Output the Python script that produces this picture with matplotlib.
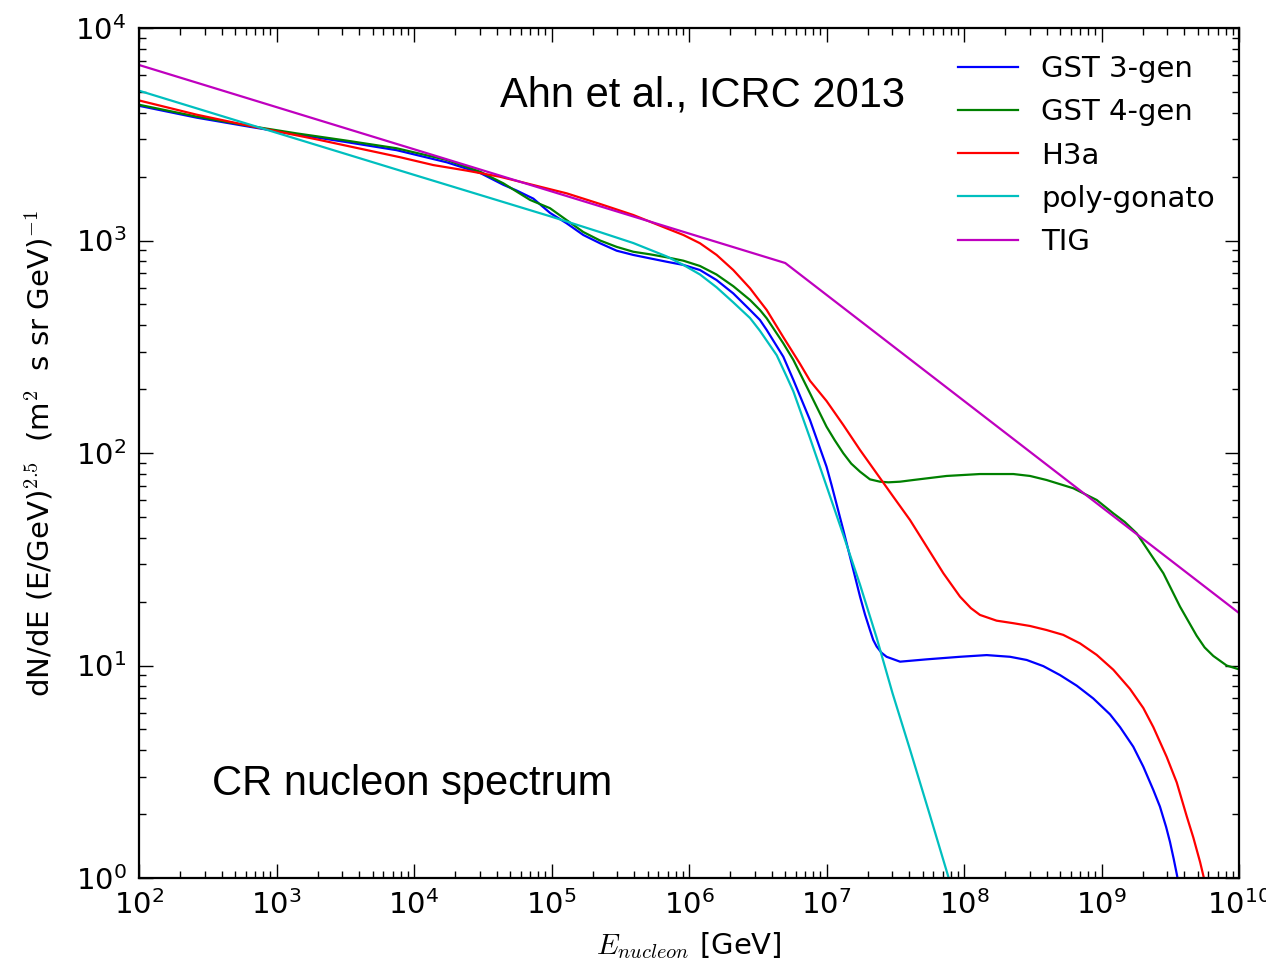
import numpy as np
import matplotlib
matplotlib.use("Agg")
import matplotlib.pyplot as plt

plt.rcParams['mathtext.fontset'] = 'cm'
plt.rcParams['font.family'] = ['DejaVu Sans']

# ---- data (log10 E [GeV], log10 flux) ----
gst3_logE = [2.007, 2.42, 2.807, 3.147, 3.51, 3.874, 4.238, 4.48, 4.65, 4.747, 4.868, 4.989,
             5.11, 5.231, 5.353, 5.474, 5.595, 5.716, 5.838, 5.959, 6.08, 6.20, 6.322, 6.444,
             6.516, 6.565, 6.686, 6.759, 6.88, 7.0, 7.037, 7.122, 7.244, 7.28, 7.316, 7.34,
             7.365, 7.40, 7.437, 7.535, 7.729, 7.971, 8.165, 8.335, 8.456, 8.577, 8.698, 8.82,
             8.94, 9.062, 9.135, 9.231, 9.304, 9.377, 9.425, 9.47, 9.498, 9.525, 9.547, 9.58]
gst3_logF = [3.633, 3.578, 3.535, 3.499, 3.463, 3.425, 3.368, 3.318, 3.262, 3.235, 3.197, 3.13,
             3.081, 3.026, 2.987, 2.952, 2.932, 2.916, 2.900, 2.885, 2.861, 2.814, 2.751, 2.673,
             2.626, 2.579, 2.453, 2.344, 2.155, 1.936, 1.849, 1.638, 1.324, 1.24, 1.167, 1.12,
             1.089, 1.06, 1.041, 1.018, 1.029, 1.041, 1.049, 1.041, 1.026, 0.997, 0.955, 0.905,
             0.845, 0.77, 0.71, 0.618, 0.524, 0.414, 0.336, 0.24, 0.17, 0.09, 0.02, -0.09]

gst4_logE = [2.007, 2.42, 2.807, 3.147, 3.51, 3.874, 4.238, 4.48, 4.65, 4.844, 4.989, 5.11,
             5.231, 5.353, 5.474, 5.595, 5.716, 5.838, 5.959, 6.08, 6.20, 6.322, 6.444, 6.516,
             6.565, 6.686, 6.759, 6.88, 7.0, 7.06, 7.122, 7.18, 7.244, 7.316, 7.389, 7.45,
             7.535, 7.632, 7.874, 8.116, 8.359, 8.48, 8.60, 8.795, 8.965, 9.086, 9.17, 9.256,
             9.353, 9.45, 9.571, 9.692, 9.75, 9.813, 9.91, 10.0]
gst4_logF = [3.638, 3.583, 3.539, 3.504, 3.470, 3.434, 3.379, 3.324, 3.269, 3.191, 3.152, 3.096,
             3.04, 3.0, 2.97, 2.947, 2.935, 2.921, 2.905, 2.88, 2.84, 2.785, 2.72, 2.673,
             2.634, 2.516, 2.438, 2.281, 2.124, 2.06, 1.999, 1.95, 1.912, 1.876, 1.865, 1.862,
             1.865, 1.873, 1.892, 1.901, 1.901, 1.892, 1.873, 1.834, 1.779, 1.716, 1.675, 1.622,
             1.528, 1.434, 1.277, 1.14, 1.085, 1.045, 1.0, 0.982]

h3a_logE = [2.007, 2.42, 2.807, 3.30, 3.898, 4.140, 4.383, 4.625, 4.868, 5.110, 5.353, 5.595,
            5.838, 5.959, 6.080, 6.201, 6.322, 6.444, 6.516, 6.565, 6.686, 6.807, 6.88, 7.0,
            7.122, 7.244, 7.365, 7.486, 7.607, 7.729, 7.85, 7.971, 8.05, 8.116, 8.237, 8.359,
            8.48, 8.60, 8.722, 8.844, 8.965, 9.086, 9.207, 9.304, 9.377, 9.474, 9.547, 9.62,
            9.668, 9.717, 9.741, 9.79]
h3a_logF = [3.658, 3.592, 3.539, 3.475, 3.392, 3.355, 3.329, 3.300, 3.261, 3.222, 3.172, 3.12,
            3.057, 3.026, 2.987, 2.932, 2.861, 2.775, 2.714, 2.673, 2.545, 2.42, 2.34, 2.245,
            2.132, 2.014, 1.904, 1.794, 1.685, 1.559, 1.434, 1.324, 1.27, 1.238, 1.211, 1.199,
            1.186, 1.167, 1.144, 1.104, 1.05, 0.98, 0.89, 0.80, 0.71, 0.57, 0.45, 0.29,
            0.19, 0.075, 0.01, -0.12]

pg_logE = [2.00, 3.00, 4.00, 5.00, 5.35, 5.595, 5.838, 5.959, 6.08, 6.20, 6.32, 6.444, 6.516,
           6.638, 6.71, 6.759, 6.88, 7.00, 7.122, 7.244, 7.365, 7.48, 7.607, 7.75, 7.886, 7.95]
pg_logF = [3.705, 3.507, 3.309, 3.112, 3.04, 2.988, 2.925, 2.885, 2.84, 2.78, 2.71, 2.635, 2.575,
           2.46, 2.36, 2.29, 2.07, 1.845, 1.615, 1.38, 1.13, 0.87, 0.605, 0.30, 0.006, -0.13]

tig_logE = [2.00, 6.70, 10.0]
tig_logF = [3.826, 2.894, 1.247]

labels = ['GST 3-gen', 'GST 4-gen', 'H3a', 'poly-gonato', 'TIG']
colors = ['#0000ff', '#008000', '#ff0000', '#00bfbf', '#bf00bf']

series = [(gst3_logE, gst3_logF), (gst4_logE, gst4_logF), (h3a_logE, h3a_logF),
          (pg_logE, pg_logF), (tig_logE, tig_logF)]

fig = plt.figure(figsize=(12.66, 9.67), dpi=100)
ax = fig.add_axes([139/1266, 1-878/967, 1100/1266, 850/967])

for (le, lf), lab, col in zip(series, labels, colors):
    ax.plot(10**np.array(le), 10**np.array(lf), color=col, lw=1.6, label=lab,
            solid_joinstyle='round')

ax.set_xscale('log')
ax.set_yscale('log')
ax.set_xlim(1e2, 1e10)
ax.set_ylim(1e0, 1e4)

ax.tick_params(which='both', direction='in', top=True, right=True, labelsize=21)
ax.tick_params(which='major', length=10, width=1.0, pad=9)
ax.tick_params(which='minor', length=5, width=1.0)
for s in ax.spines.values():
    s.set_linewidth(1.6)

ax.set_xlabel(r'$E_{nucleon}$ [GeV]', fontsize=21, labelpad=7)
ax.set_ylabel(r'dN/dE (E/GeV)$^{2.5}$  (m$^2$  s sr GeV)$^{-1}$', fontsize=21, labelpad=14)

leg = ax.legend(loc='upper left', bbox_to_anchor=(0.7445, 0.968), frameon=False,
                fontsize=21, handlelength=2.05, handletextpad=0.8, labelspacing=0.52,
                borderpad=0, borderaxespad=0)

fig.text(500/1266, 1-96/967, 'Ahn et al., ICRC 2013', fontsize=30, family='Liberation Sans',
         va='center', ha='left')
fig.text(212/1266, 1-784/967, 'CR nucleon spectrum', fontsize=30, family='Liberation Sans',
         va='center', ha='left')

fig.savefig('out.png', dpi=100)
